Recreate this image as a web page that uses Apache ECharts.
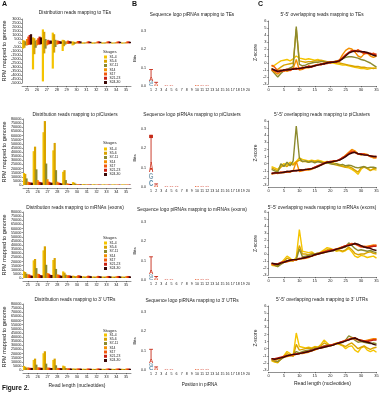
<!DOCTYPE html>
<html><head><meta charset="utf-8">
<script src="https://cdn.jsdelivr.net/npm/echarts@6/dist/echarts.min.js"></script>
<style>html,body{margin:0;padding:0;background:#fff}#c{width:382px;height:400px}</style>
</head><body><div id="c"></div>
<script>
// ---------- data ----------
const stages = ['S1-4','S5-6','S7-11','S14','S17','S21-23','S24-30'];
const stageColors = ['#F5C400','#D9A300','#8C8A2E','#F39000','#F2580C','#C81E10','#3A0806'];
const readLengths = ['25','26','27','28','29','30','31','32','33','34','35'];
const logoPositions = ['1','2','3','4','5','6','7','8','9','10','11','12','13','14','15','16','17','18','19','20'];
const zLengths = [1,2,3,4,5,6,7,8,9,10,11,12,13,14,15,16,17,18,19,20,21,22,23,24,25,26,27,28,29,30,31,32,33,34,35];

// A: RPM, TEs sense (+) / antisense (-)
const teSense = [
  [350,700,1700,1300,400,200,80,80,70,60,60],
  [300,600,1400,1100,350,150,60,60,60,50,50],
  [200,300,500,400,200,100,50,50,50,50,50],
  [500,400,300,300,200,150,100,100,100,100,100],
  [800,600,400,300,300,250,200,200,200,180,200],
  [1000,800,300,250,250,250,200,200,200,200,200],
  [1100,700,300,200,200,200,150,150,150,150,150]
];
const teAntisense = [
  [-700,-3300,-4800,-3200,-1000,-300,-100,-100,-90,-80,-80],
  [-600,-1400,-1300,-1200,-400,-200,-60,-60,-60,-50,-50],
  [-300,-600,-700,-500,-200,-100,-50,-50,-50,-40,-40],
  [-300,-300,-300,-200,-100,-50,-40,-40,-40,-40,-40],
  [-250,-200,-200,-150,-100,-50,-40,-40,-40,-40,-40],
  [-200,-200,-150,-100,-80,-50,-30,-30,-30,-30,-30],
  [-200,-150,-100,-100,-60,-50,-30,-30,-30,-30,-30]
];
const piClustersRPM = [
  [14500,41000,64000,42000,16000,3500,1000,800,700,700,700],
  [13500,46500,77500,51000,18000,2800,900,700,600,600,600],
  [8000,19000,26000,18000,6000,1500,700,600,500,500,500],
  [4000,6000,7000,4000,2000,900,600,500,500,500,500],
  [3500,4000,4000,3000,1600,800,600,500,500,500,500],
  [3000,3500,3200,2500,1300,700,500,500,400,400,400],
  [2800,3000,2800,2000,1100,600,500,400,400,400,400]
];
const mRNAsRPM = [
  [8000,21400,33500,21800,8000,2800,2000,1800,1800,1700,1700],
  [7300,23000,38400,24200,6500,2500,1800,1700,1600,1600,1600],
  [5200,12000,16000,11000,4000,2000,1600,1500,1500,1500,1500],
  [4000,5200,6000,4400,3200,2500,2200,2000,2000,2000,2000],
  [4400,4800,5200,4000,3300,3300,2800,2600,2500,2500,2500],
  [3200,3600,4000,3200,3000,3000,2600,2400,2400,2400,2400],
  [2800,3200,3600,2800,2600,2500,2200,2000,2000,2000,2000]
];
const utrRPM = [
  [4900,12200,20300,12200,5300,1800,1500,1400,1400,1400,1400],
  [4000,13800,22700,13800,4500,1700,1400,1300,1300,1300,1300],
  [2800,6500,7700,5700,2400,1500,1300,1200,1200,1200,1200],
  [3000,3200,3000,2600,2000,1700,1600,1600,1600,1600,1600],
  [2800,3000,2800,2500,2100,1900,1800,1800,1800,1800,1800],
  [2600,2800,2600,2300,1900,1800,1700,1700,1700,1700,1700],
  [2500,2600,2400,2200,1800,1600,1500,1500,1500,1500,1500]
];

// B: sequence logos  [position, letter, bits]
const logoTEs = [[1,'C',0.014],[1,'G',0.012],[1,'A',0.020],[2,'U',0.004],[2,'A',0.007],
  [3,'A',0.002],[4,'A',0.003],[5,'A',0.003],[6,'A',0.002],[7,'A',0.002],[8,'A',0.002],[9,'A',0.002],
  [10,'U',0.006],[11,'A',0.003],[12,'A',0.003],[13,'A',0.002],[14,'A',0.002],[15,'A',0.002],
  [16,'A',0.002],[17,'A',0.002],[18,'A',0.002],[19,'A',0.002],[20,'A',0.002]];
const logoPiClusters = [[1,'C',0.035],[1,'G',0.035],[1,'A',0.055],[2,'U',0.004],[2,'A',0.007],
  [3,'A',0.002],[4,'A',0.003],[5,'A',0.006],[6,'A',0.003],[7,'A',0.002],[8,'A',0.002],[9,'A',0.002],
  [10,'U',0.007],[11,'A',0.003],[12,'A',0.003],[13,'A',0.002],[14,'A',0.002],[15,'A',0.002],
  [16,'A',0.002],[17,'A',0.002],[18,'A',0.002],[19,'A',0.002],[20,'A',0.002]];
const logoMRNAs = [[1,'C',0.015],[1,'G',0.012],[1,'A',0.018],[2,'U',0.004],[2,'A',0.006],
  [3,'A',0.002],[4,'A',0.003],[5,'A',0.003],[6,'A',0.002],[7,'A',0.002],[8,'A',0.002],[9,'A',0.002],
  [10,'U',0.006],[11,'A',0.003],[12,'A',0.003],[13,'A',0.002],[14,'A',0.002],[15,'A',0.002],
  [16,'A',0.002],[17,'A',0.002],[18,'A',0.002],[19,'A',0.002],[20,'A',0.002]];
const logoUTRs = [[1,'C',0.020],[1,'G',0.015],[1,'A',0.018],[2,'U',0.004],[2,'A',0.006],
  [3,'A',0.002],[4,'A',0.003],[5,'A',0.003],[6,'A',0.002],[7,'A',0.002],[8,'A',0.002],[9,'A',0.002],
  [10,'U',0.006],[11,'A',0.003],[12,'A',0.003],[13,'A',0.002],[14,'A',0.002],[15,'A',0.002],
  [16,'A',0.002],[17,'A',0.002],[18,'A',0.002],[19,'A',0.002],[20,'A',0.002]];
// error bars [position, top bits, cap type (0 bar, 1 square)]
const errTEs = [[1,0.090,0],[2,0.020,0]];
const errPiClusters = [[1,0.270,1],[2,0.016,0]];
const errMRNAs = [[1,0.120,0],[2,0.018,0]];
const errUTRs = [[1,0.107,0],[2,0.016,0]];

// C: z-scores (x = 1..35)
const zTEs = [
  [-0.5,-0.3,0.0,0.3,0.4,0.5,0.3,0.6,1.0,0.7,0.6,0.5,0.6,0.5,0.4,0.5,0.3,0.2,0.1,0.0,0.0,-0.1,-0.2,-0.3,-0.3,-0.4,-0.5,-0.6,-0.7,-0.8,-0.8,-0.9,-0.8,-0.7,-0.8],
  [-0.8,-1.2,-0.9,-0.6,-0.3,-0.2,-0.1,0.0,4.9,0.3,0.2,0.1,0.2,0.2,0.3,0.3,0.4,0.3,0.2,0.2,0.1,0.1,0.0,-0.1,-0.2,-0.3,-0.4,-0.5,-0.5,-0.6,-0.6,-0.7,-0.7,-0.8,-0.7],
  [-1.0,-1.5,-2.0,-1.5,-1.1,-0.9,-0.7,-0.5,5.2,-0.2,-0.4,-0.3,-0.1,0.0,0.1,0.1,0.2,0.2,0.1,0.2,0.2,0.3,0.4,0.6,0.8,0.9,0.9,0.8,0.7,0.5,0.4,0.2,0.0,-0.3,-0.6],
  [-1.0,-1.3,-1.6,-1.2,-1.0,-1.2,-1.0,-0.8,0.5,-1.0,-0.9,-0.7,-0.7,-0.5,-0.4,-0.2,-0.2,0.0,0.0,0.2,0.2,0.1,0.4,1.2,1.8,2.1,2.0,1.6,1.0,0.8,1.3,1.4,1.0,0.8,1.0],
  [-0.3,-0.6,-1.1,-1.0,-1.2,-0.9,-1.1,-0.8,-0.7,-0.9,-0.6,-0.7,-0.4,-0.5,-0.3,-0.2,-0.3,0.0,-0.1,0.2,0.1,0.3,0.2,0.8,1.2,1.5,1.8,1.6,1.9,1.6,1.3,1.5,1.2,1.4,1.1],
  [-0.9,-1.1,-1.3,-1.2,-1.0,-0.9,-1.0,-0.8,-0.9,-0.7,-0.8,-0.6,-0.5,-0.6,-0.4,-0.3,-0.1,-0.2,0.1,0.0,0.2,0.1,0.4,0.7,1.1,1.5,1.7,1.8,1.6,1.7,1.5,1.4,1.4,1.2,1.3],
  [-0.8,-1.0,-1.2,-1.1,-1.0,-1.0,-0.9,-0.9,-0.8,-0.8,-0.7,-0.6,-0.6,-0.5,-0.4,-0.3,-0.2,-0.1,0.0,0.1,0.1,0.2,0.3,0.6,1.0,1.4,1.6,1.7,1.7,1.6,1.6,1.5,1.3,1.1,1.0]
];
const zPiClusters = [
  [-0.4,-0.6,-0.8,-0.3,0.0,-0.2,0.2,0.0,0.3,0.8,0.6,0.5,0.4,0.5,0.4,0.5,0.4,0.2,0.3,0.2,0.1,0.0,-0.1,-0.3,-0.5,-0.6,-0.8,-1.1,-1.5,-0.8,-0.4,-0.6,-0.9,-0.8,-0.9],
  [-0.6,-0.8,-1.0,-0.5,-0.2,-0.4,0.0,-0.2,0.2,0.5,0.3,0.3,0.2,0.4,0.3,0.3,0.2,0.1,0.1,0.0,-0.1,-0.2,-0.3,-0.4,-0.5,-0.4,-0.6,-0.9,-1.2,-0.6,-0.5,-0.7,-1.0,-0.7,-0.7],
  [-0.8,-1.0,-1.2,0.0,-0.4,0.2,-0.3,0.4,5.3,0.8,0.3,0.4,0.2,0.3,0.1,0.3,0.2,0.0,0.1,0.0,-0.1,0.0,-0.2,-0.1,-0.3,-0.2,-0.3,-0.5,-0.6,-0.5,-0.4,-0.6,-0.5,-0.5,-0.6],
  [-1.5,-1.3,-1.4,-1.2,-1.3,-1.1,-1.2,-1.0,0.3,-1.1,-1.0,-0.9,-0.9,-0.8,-0.6,-0.4,-0.2,0.0,0.2,0.3,0.3,0.4,0.5,0.8,1.2,1.6,2.0,1.8,1.4,1.2,1.4,1.3,1.0,0.8,0.8],
  [-1.4,-1.4,-1.3,-1.3,-1.2,-1.2,-1.1,-1.0,-0.9,-1.0,-0.9,-0.9,-0.7,-0.7,-0.5,-0.3,-0.2,0.0,0.2,0.2,0.4,0.4,0.5,0.9,1.0,1.5,1.8,1.6,1.3,1.4,1.3,1.2,1.0,1.0,0.9],
  [-1.3,-1.3,-1.3,-1.2,-1.2,-1.1,-1.1,-1.0,-1.0,-0.9,-0.9,-0.8,-0.8,-0.7,-0.5,-0.3,-0.1,0.1,0.2,0.3,0.3,0.4,0.6,0.8,1.1,1.4,1.6,1.6,1.4,1.4,1.3,1.2,1.1,1.0,1.0],
  [-1.4,-1.3,-1.3,-1.3,-1.2,-1.1,-1.1,-1.0,-1.0,-0.9,-0.9,-0.8,-0.8,-0.7,-0.6,-0.4,-0.2,0.0,0.2,0.2,0.3,0.4,0.5,0.7,1.0,1.3,1.5,1.6,1.4,1.3,1.2,1.2,1.1,1.0,1.0]
];
const zMRNAs = [
  [-1.6,-1.7,-1.8,-1.3,-0.8,-0.3,-0.6,-1.0,-0.5,3.5,0.4,0.3,0.2,0.3,0.0,0.0,0.3,0.6,0.9,0.8,0.6,0.4,0.5,0.3,0.5,0.8,0.3,-0.3,-0.5,-0.2,-0.3,-0.5,-0.4,-0.3,-0.6],
  [-1.5,-1.6,-1.7,-1.3,-1.0,-0.6,-0.8,-1.0,-0.6,1.2,0.0,0.0,-0.1,0.1,0.0,0.1,0.2,0.4,0.6,0.7,0.6,0.5,0.6,0.4,0.6,1.0,0.6,0.1,-0.1,0.0,0.0,0.2,0.3,0.1,0.0],
  [-1.4,-1.6,-1.8,-1.5,-1.2,-1.0,-1.0,-0.9,-0.8,0.7,-0.4,-0.3,-0.2,-0.1,0.0,0.1,0.1,0.2,0.4,0.5,0.5,0.6,0.8,0.9,1.0,1.6,1.2,0.8,0.5,0.6,0.5,0.4,0.5,0.3,0.2],
  [-1.5,-1.4,-1.5,-1.3,-1.2,-1.1,-1.0,-0.9,-0.9,-0.6,-0.7,-0.6,-0.5,-0.3,-0.2,0.0,0.1,0.2,0.3,0.5,0.5,0.7,0.9,1.0,1.1,1.3,1.4,1.5,1.3,1.1,1.0,1.1,1.2,1.3,1.2],
  [-1.4,-1.5,-1.4,-1.3,-1.1,-1.1,-0.9,-0.9,-0.8,-0.7,-0.6,-0.6,-0.4,-0.3,-0.1,0.0,0.1,0.3,0.4,0.5,0.6,0.7,0.8,1.0,1.2,1.3,1.5,1.4,1.2,1.0,1.1,1.0,1.1,1.2,1.3],
  [-1.3,-1.5,-1.4,-1.2,-1.1,-1.0,-0.9,-0.8,-0.8,-0.7,-0.6,-0.5,-0.4,-0.3,-0.1,0.0,0.2,0.3,0.4,0.5,0.6,0.7,0.8,1.0,1.2,1.3,1.4,1.5,1.3,1.1,1.0,0.9,1.0,1.1,1.1],
  [-1.3,-1.4,-1.5,-1.3,-1.2,-1.0,-0.9,-0.8,-0.8,-0.7,-0.6,-0.5,-0.4,-0.3,-0.1,0.0,0.1,0.2,0.3,0.4,0.5,0.7,0.8,0.9,1.1,1.2,1.3,1.5,1.4,1.2,1.0,0.9,0.8,0.6,0.5]
];
const zUTRs = [
  [-1.7,-1.9,-2.0,-1.4,-1.0,-0.4,-0.7,-1.0,2.2,0.3,0.2,0.1,0.2,0.1,0.3,0.2,0.6,1.2,0.8,0.4,0.6,0.8,0.6,0.4,0.0,0.3,0.4,-0.2,-0.5,0.1,0.3,-0.2,-0.4,-0.2,-0.5],
  [-1.6,-1.8,-1.9,-1.5,-1.1,-0.7,-0.9,-1.1,0.6,-0.2,-0.1,0.0,0.1,0.0,0.2,0.2,0.4,0.8,0.6,0.4,0.5,0.7,0.6,0.5,0.3,0.6,0.8,0.4,0.0,0.2,0.4,0.1,-0.1,0.1,0.2],
  [-1.5,-1.7,-1.8,-1.5,-1.2,-1.0,-1.0,-0.9,-0.4,-0.6,-0.4,-0.3,-0.2,-0.1,0.0,0.1,0.2,0.4,0.5,0.5,0.6,0.7,0.8,0.9,1.2,1.8,1.6,1.2,0.9,1.0,0.9,0.8,0.7,0.8,0.7],
  [-1.5,-1.6,-1.5,-1.3,-1.2,-1.1,-1.0,-0.9,-0.8,-0.7,-0.7,-0.6,-0.5,-0.3,-0.2,0.0,0.1,0.2,0.3,0.4,0.5,0.7,0.8,1.0,1.1,1.3,1.4,1.5,1.3,1.2,1.1,1.2,1.3,1.4,1.4],
  [-1.4,-1.5,-1.4,-1.3,-1.1,-1.0,-0.9,-0.9,-0.8,-0.7,-0.6,-0.5,-0.4,-0.3,-0.1,0.0,0.1,0.3,0.4,0.5,0.6,0.7,0.8,1.0,1.2,1.3,1.5,1.4,1.2,1.1,1.0,1.1,1.2,1.3,1.3],
  [-1.4,-1.4,-1.3,-1.2,-1.1,-1.0,-0.9,-0.8,-0.7,-0.7,-0.6,-0.5,-0.4,-0.2,-0.1,0.0,0.2,0.3,0.4,0.5,0.6,0.7,0.9,1.0,1.1,1.3,1.4,1.5,1.3,1.2,1.1,1.0,1.1,1.2,1.2],
  [-1.4,-1.5,-1.4,-1.3,-1.2,-1.0,-0.9,-0.8,-0.8,-0.7,-0.6,-0.5,-0.4,-0.3,-0.1,0.0,0.1,0.2,0.3,0.4,0.5,0.7,0.8,0.9,1.1,1.2,1.4,1.5,1.3,1.1,1.0,0.9,0.8,0.6,0.5]
];

const titlesA = ['Distribution reads mapping to TEs','Distribution reads mapping to piClusters','Distribution reads mapping to mRNAs (exons)',"Distribution reads mapping to 3' UTRs"];
const titlesB = ['Sequence logo piRNAs mapping to TEs','Sequence logo piRNAs mapping to piClusters','Sequence logo piRNAs mapping to mRNAs (exons)',"Sequence logo piRNAs mapping to 3' UTRs"];
const titlesC = ["5'-5' overlapping reads mapping to TEs","5'-5' overlapping reads mapping to piClusters","5'-5' overlapping reads mapping to mRNAs (exons)","5'-5' overlapping reads mapping to 3' UTRs"];

// ---------- chart ----------
const FONT = 'Liberation Sans';
const TXT = '#222';
const letterCodes = ['A','C','G','U'];
const letterColors = {A:'#D0341F', C:'#5A8CAB', G:'#86A4B5', U:'#E8643A'};
const ERR = '#C52A18';

const gA = [[19,64],[119,66],[212,66],[304,66]];
const gB = [[31,55],[129,58],[222,58],[312,58]];
const gC = [[21,63],[121,64],[212,63],[306,64]];
const titleY = [[13,115,208,300],[15,115,210,301],[15,115,208,300]];
const stagesY = [52,143,238,331];
const legendTop = [55.5,147.5,241.5,333.5];

const grids=[], xAxes=[], yAxes=[], series=[], titles=[], legends=[];
const rpmRows = [null, piClustersRPM, mRNAsRPM, utrRPM];
const logoRows = [logoTEs, logoPiClusters, logoMRNAs, logoUTRs];
const errRows = [errTEs, errPiClusters, errMRNAs, errUTRs];
const zRows = [zTEs, zPiClusters, zMRNAs, zUTRs];

const tickLbl = (fs) => ({fontSize:fs, fontFamily:FONT, color:TXT});
const axLine = {show:true, onZero:false, lineStyle:{color:'#222', width:0.5}};
const axTick = {show:true, length:1.3, lineStyle:{color:'#222', width:0.5}};

function renderLetter(params, api){
  const pos = api.value(0), y0 = api.value(1), y1 = api.value(2);
  const letter = letterCodes[api.value(3)];
  const p0 = api.coord([pos, y0]), p1 = api.coord([pos, y1]);
  const w = api.size([1,0])[0]*0.85;
  const h = Math.max(p0[1]-p1[1], 0.45);
  return {type:'text', x:p0[0], y:(p0[1]+p1[1])/2, scaleX:w/7.2, scaleY:h/7.2,
    style:{text:letter, fill:letterColors[letter], font:'bold 10px "Liberation Sans"', align:'center', verticalAlign:'middle'}};
}
function renderErr(params, api){
  const pos = api.value(0), lo = api.value(1), hi = api.value(2), cap = api.value(3);
  const a = api.coord([pos, lo]), b = api.coord([pos, hi]);
  const cw = api.size([1,0])[0]*0.75;
  const ch = [{type:'line', shape:{x1:a[0],y1:a[1],x2:b[0],y2:b[1]}, style:{stroke:ERR, lineWidth:0.9}}];
  if (cap === 1) ch.push({type:'rect', shape:{x:b[0]-cw/2, y:b[1], width:cw, height:cw*0.85}, style:{fill:ERR}});
  else ch.push({type:'line', shape:{x1:b[0]-cw/2,y1:b[1],x2:b[0]+cw/2,y2:b[1]}, style:{stroke:ERR, lineWidth:0.9}});
  return {type:'group', children:ch};
}

for (let r=0; r<4; r++){
  const ia = 3*r, ib = 3*r+1, ic = 3*r+2;
  grids.push({left:20, top:gA[r][0], width:111, height:gA[r][1]});
  grids.push({left:148.5, top:gB[r][0], width:102, height:gB[r][1]});
  grids.push({left:268.5, top:gC[r][0], width:108, height:gC[r][1]});

  // A axes
  xAxes.push({type:'category', gridIndex:ia, data:readLengths, offset:3,
    axisLine:axLine, axisTick:Object.assign({alignWithLabel:true}, axTick),
    axisLabel:Object.assign({margin:2, interval:0}, tickLbl(3.8)),
    name: r===3 ? 'Read length (nucleotides)' : '', nameLocation:'middle', nameGap:10.5,
    nameTextStyle:{fontSize:5, fontFamily:FONT, color:TXT}});
  yAxes.push({type:'value', gridIndex:ia,
    min: r===0 ? -5000 : 0, max: r===0 ? 3000 : 80000, interval: r===0 ? 500 : 5000,
    axisLine:axLine, axisTick:axTick, splitLine:{show:false},
    axisLabel:Object.assign({margin:1.5, formatter:v=>String(v)}, tickLbl(3.8)),
    name:'RPM mapped to genome', nameLocation:'middle', nameGap:14.5,
    nameTextStyle:{fontSize:5.5, fontFamily:FONT, color:TXT}});
  // B axes
  xAxes.push({type:'category', gridIndex:ib, data:logoPositions,
    axisLine:{show:false, onZero:false}, axisTick:{show:false},
    axisLabel:Object.assign({margin:2.2, interval:0}, tickLbl(3.6)),
    name: r===3 ? 'Position in piRNA' : '', nameLocation:'middle', nameGap:12,
    nameTextStyle:{fontSize:4.6, fontFamily:FONT, color:TXT}});
  yAxes.push({type:'value', gridIndex:ib, min:0, max:0.3, interval:0.1,
    axisLine:{show:false}, axisTick:{show:false}, splitLine:{show:false},
    axisLabel:Object.assign({margin:2.5, formatter:v=>v.toFixed(1)}, tickLbl(3.6)),
    name:'Bits', nameLocation:'middle', nameGap:9,
    nameTextStyle:{fontSize:4.3, fontFamily:FONT, color:TXT}});
  // C axes
  xAxes.push({type:'value', gridIndex:ic, min:0, max:35, interval:5, offset:2,
    axisLine:axLine, axisTick:axTick, splitLine:{show:false},
    axisLabel:Object.assign({margin:1.5}, tickLbl(4)),
    name: r===3 ? 'Read length (nucleotides)' : '', nameLocation:'middle', nameGap:9.5,
    nameTextStyle:{fontSize:5, fontFamily:FONT, color:TXT}});
  yAxes.push({type:'value', gridIndex:ic, min:-3, max:6, interval:1,
    axisLine:axLine, axisTick:axTick, splitLine:{show:false},
    axisLabel:Object.assign({margin:2}, tickLbl(4)),
    name:'Z-score', nameLocation:'middle', nameGap:10.5,
    nameTextStyle:{fontSize:5, fontFamily:FONT, color:TXT}});

  // A series
  for (let s=0; s<7; s++){
    const base = {type:'bar', name:stages[s], xAxisIndex:ia, yAxisIndex:ia,
      stack:'r'+r+'s'+s, barWidth:2.2, barGap:'-40%',
      itemStyle:{color:stageColors[s]}, silent:true, animation:false};
    if (r===0){
      series.push(Object.assign({}, base, {data:teSense[s]}));
      series.push(Object.assign({}, base, {data:teAntisense[s]}));
    } else {
      series.push(Object.assign({}, base, {data:rpmRows[r][s]}));
    }
  }
  // B series: logo letters
  const cum = {};
  const letterData = logoRows[r].map(([p, L, b]) => {
    const lo = cum[p] || 0; cum[p] = lo + b;
    return [p-1, lo, lo+b, letterCodes.indexOf(L)];
  });
  series.push({type:'custom', xAxisIndex:ib, yAxisIndex:ib, renderItem:renderLetter,
    data:letterData, encode:{x:0, y:[1,2]}, silent:true, animation:false});
  series.push({type:'custom', xAxisIndex:ib, yAxisIndex:ib, renderItem:renderErr,
    data:errRows[r].map(([p, top, cap]) => [p-1, cum[p] || 0, top, cap]),
    encode:{x:0, y:[1,2]}, silent:true, animation:false});
  // C series
  for (let s=0; s<7; s++){
    series.push({type:'line', name:stages[s], xAxisIndex:ic, yAxisIndex:ic,
      data:zLengths.map((x,i)=>[x, zRows[r][s][i]]), showSymbol:false, symbol:'none',
      lineStyle:{color:stageColors[s], width:1.4}, itemStyle:{color:stageColors[s]},
      silent:true, animation:false});
  }

  titles.push({text:titlesA[r], left:75, top:titleY[0][r]-2.6, textAlign:'center', padding:0,
    textStyle:{fontSize:4.8, fontWeight:'normal', fontFamily:FONT, color:TXT, lineHeight:5.2}});
  titles.push({text:titlesB[r], left:192, top:titleY[1][r]-2.6, textAlign:'center', padding:0,
    textStyle:{fontSize:4.8, fontWeight:'normal', fontFamily:FONT, color:TXT, lineHeight:5.2}});
  titles.push({text:titlesC[r], left:322, top:titleY[2][r]-2.6, textAlign:'center', padding:0,
    textStyle:{fontSize:4.8, fontWeight:'normal', fontFamily:FONT, color:TXT, lineHeight:5.2}});
  titles.push({text:'Stages', left:103, top:stagesY[r]-2.4, padding:0,
    textStyle:{fontSize:4.4, fontWeight:'normal', fontFamily:FONT, color:TXT, lineHeight:4.8}});
  legends.push({data:stages, orient:'vertical', left:104, top:legendTop[r], padding:0,
    itemWidth:3, itemHeight:3, itemGap:1.25, icon:'rect', selectedMode:false,
    textStyle:{fontSize:3.4, fontFamily:FONT, color:TXT, padding:[0,0,0,-2.6]}});
}
titles.push({text:'A', left:2, top:1, padding:0, textStyle:{fontSize:7, fontWeight:'bold', fontFamily:FONT, color:'#111'}});
titles.push({text:'B', left:132, top:1, padding:0, textStyle:{fontSize:7, fontWeight:'bold', fontFamily:FONT, color:'#111'}});
titles.push({text:'C', left:258, top:1, padding:0, textStyle:{fontSize:7, fontWeight:'bold', fontFamily:FONT, color:'#111'}});
titles.push({text:'Figure 2.', left:2, top:385, padding:0, textStyle:{fontSize:6.5, fontWeight:'bold', fontFamily:FONT, color:'#111'}});

const chart = echarts.init(document.getElementById('c'), null, {renderer:'canvas', width:382, height:400});
chart.setOption({
  backgroundColor:'#fff', animation:false,
  title:titles, legend:legends, grid:grids, xAxis:xAxes, yAxis:yAxes, series:series,
  tooltip:{show:false}
});
</script></body></html>
